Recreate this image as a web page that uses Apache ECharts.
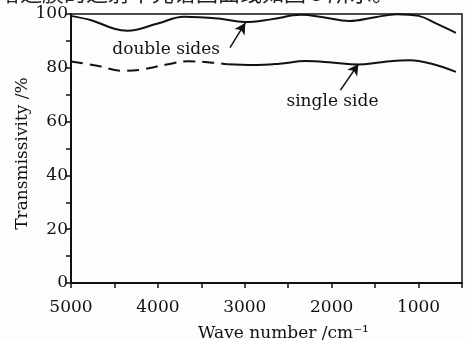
<!DOCTYPE html>
<html>
<head>
<meta charset="utf-8">
<style>
  html, body { margin: 0; padding: 0; background: #fff; }
  #chart { width: 470px; height: 340px; }
</style>
<script src="https://cdn.jsdelivr.net/npm/echarts@6/dist/echarts.min.js"></script>
</head>
<body>
<div id="chart"></div>
<script>
// wave number (cm^-1) / transmissivity (%)
const doubleSides = [
  [5000, 99.3], [4750, 97.5], [4500, 94.5], [4350, 93.8], [4000, 96.5],
  [3700, 99.0], [3300, 98.3], [3000, 97.0], [2700, 98.0], [2350, 99.7],
  [2100, 98.8], [1800, 97.4], [1500, 98.8], [1250, 99.9], [1000, 99.3],
  [800, 96.5], [570, 93.0]
]
const singleSideDashed = [
  [5000, 82.3], [4700, 80.8], [4400, 78.9], [4200, 79.3], [3900, 81.2],
  [3650, 82.4], [3400, 82.0], [3200, 81.3]
]
const singleSideSolid = [
  [3200, 81.3], [2900, 81.0], [2600, 81.5], [2300, 82.5], [2000, 82.0],
  [1700, 81.2], [1400, 82.2], [1100, 82.8], [850, 81.5], [570, 78.5]
]

// annotation arrows: [from, to] in data coordinates
const doubleArrow = [[3170, 87.5], [2994, 96.7]]
const singleArrow = [[1899, 71.7], [1692, 81.4]]
const labelTexts = [
  {name: 'double sides', coord: [3905, 86.6]},
  {name: 'single side', coord: [1991, 67.3]}
]

const xTicks = [5000, 4000, 3000, 2000, 1000]
const yTicks = [0, 20, 40, 60, 80, 100]

const serif = 'DejaVu Serif'
const ink = '#111'

const chart = echarts.init(document.getElementById('chart'))

const line = (data, dashed) => ({
  type: 'line',
  data,
  smooth: 0.4,
  symbol: 'none',
  silent: true,
  lineStyle: {color: ink, width: 2, type: dashed ? [12, 7] : 'solid'},
  z: 3
})

chart.setOption({
  animation: false,
  backgroundColor: '#fdfdfd',
  graphic: [{
    type: 'text',
    left: -2,
    top: -18,
    style: {
      text: '增透膜的透射率光谱图曲线如图 5 所示。',
      font: '22px "Noto Sans CJK SC"',
      fill: '#222'
    }
  }],
  grid: {
    left: 71, right: 8, top: 14, bottom: 57,
    outerBoundsMode: 'none',
    containLabel: false,
    show: true,
    borderColor: ink,
    borderWidth: 1.5,
    backgroundColor: 'transparent'
  },
  xAxis: {
    type: 'value',
    inverse: true,
    min: 500,
    max: 5000,
    interval: 500,
    name: 'Wave number /cm⁻¹',
    nameLocation: 'middle',
    nameGap: 42,
    nameMoveOverlap: false,
    nameTextStyle: {fontFamily: serif, fontSize: 17, color: ink, padding: [0, 0, 0, 34]},
    axisLine: {lineStyle: {color: ink, width: 2}},
    axisTick: {length: 5, lineStyle: {color: ink, width: 1.5}},
    splitLine: {show: false},
    axisLabel: {
      fontFamily: serif, fontSize: 17, color: ink, margin: 16,
      formatter: v => xTicks.includes(v) ? String(v) : ''
    }
  },
  yAxis: {
    type: 'value',
    min: 0,
    max: 100,
    interval: 10,
    name: 'Transmissivity /%',
    nameLocation: 'middle',
    nameGap: 40,
    nameMoveOverlap: false,
    nameTextStyle: {fontFamily: serif, fontSize: 17, color: ink, padding: [0, 10, 0, 0]},
    axisLine: {show: true, lineStyle: {color: ink, width: 2}},
    axisTick: {show: true, length: 5, lineStyle: {color: ink, width: 1.5}},
    splitLine: {show: false},
    axisLabel: {
      fontFamily: serif, fontSize: 17, color: ink, margin: 3,
      formatter: v => yTicks.includes(v) ? String(v) : ''
    }
  },
  series: [
    line(doubleSides, false),
    line(singleSideDashed, true),
    line(singleSideSolid, false),
    {
      type: 'line',
      data: [],
      silent: true,
      markLine: {
        silent: true,
        symbol: ['none', 'arrow'],
        symbolSize: [9, 11],
        label: {show: false},
        lineStyle: {color: ink, width: 1.5, type: 'solid'},
        data: [doubleArrow, singleArrow].map(([a, b]) => [{coord: a}, {coord: b}])
      },
      markPoint: {
        silent: true,
        symbol: 'rect',
        symbolSize: 0,
        label: {
          show: true,
          position: 'inside',
          formatter: p => p.name,
          fontFamily: serif,
          fontSize: 17,
          color: ink
        },
        data: labelTexts
      }
    }
  ]
})
</script>
</body>
</html>
